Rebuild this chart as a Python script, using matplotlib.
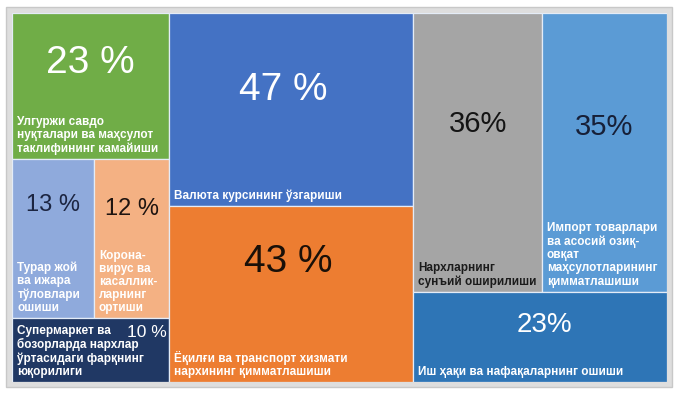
"""
Treemap of inflation factors (percent of respondents)
"""
import matplotlib.pyplot as plt
from matplotlib.patches import Rectangle

plt.rcParams['font.family'] = ['Liberation Sans', 'DejaVu Sans']

# --- data -------------------------------------------------------------
labels = [
    "Улгуржи савдо\nнуқталари ва маҳсулот\nтаклифининг камайиши",
    "Турар жой\nва ижара\nтўловлари\nошиши",
    "Корона-\nвирус ва\nкасаллик-\nларнинг\nортиши",
    "Супермаркет ва\nбозорларда нархлар\nўртасидаги фарқнинг\nюқорилиги",
    "Валюта курсининг ўзгариши",
    "Ёқилғи ва транспорт хизмати\nнархининг қимматлашиши",
    "Нархларнинг\nсунъий оширилиши",
    "Импорт товарлари\nва асосий озиқ-\nовқат\nмаҳсулотларининг\nқимматлашиши",
    "Иш ҳақи ва нафақаларнинг ошиши",
]
values = [23, 13, 12, 10, 47, 43, 36, 35, 23]
pct_text = ["23 %", "13 %", "12 %", "10 %", "47 %", "43 %", "36%", "35%", "23%"]

# columns -> rows -> tile indices (slice and dice structure)
layout = [[[0], [1, 2], [3]], [[4], [5]], [[6, 7], [8]]]

# --- styles -----------------------------------------------------------
colors = ["#70AD47", "#8FAADC", "#F4B183", "#203864", "#4472C4",
          "#ED7D31", "#A5A5A5", "#5B9BD5", "#2E75B6"]
pct_colors = ["white", "#1C2541", "#1E1410", "white", "white",
              "#1A1008", "#141414", "#172038", "white"]
pct_sizes = [28, 17, 17, 12.5, 28, 28, 21, 21, 20]
# relative position of the percentage inside its tile
pct_pos = [(0.5, 0.66), (0.5, 0.71), (0.51, 0.69), (0.985, 0.78),
           (0.47, 0.60), (0.49, 0.68), (0.51, 0.60), (0.5, 0.59),
           (0.52, 0.63)]
label_colors = ["white"] * 6 + ["#1B1B1B"] + ["white"] * 2

# --- layout -----------------------------------------------------------
total = sum(values)
rects = {}
x0 = 0.0
for col in layout:
    col_sum = sum(values[i] for row in col for i in row)
    w = col_sum / total
    y_top = 1.0
    for row in col:
        row_sum = sum(values[i] for i in row)
        h = row_sum / col_sum
        xx = x0
        for i in row:
            tw = w * values[i] / row_sum
            rects[i] = (xx, y_top - h, tw, h)
            xx += tw
        y_top -= h
    x0 += w

fig = plt.figure(figsize=(6.8, 3.93), dpi=100)
fig.patch.set_facecolor("white")
fig.patches.append(Rectangle((6 / 680, 6 / 393), 666 / 680, 380 / 393,
                             transform=fig.transFigure, facecolor="#DEDEDE",
                             edgecolor="#C8C8C8", linewidth=1.0, zorder=-5))

ax = fig.add_axes([12 / 680, 11 / 393, 655 / 680, 369 / 393])
ax.set_zorder(2)
ax.patch.set_alpha(0)
ax.set_xlim(0, 1)
ax.set_ylim(0, 1)
ax.axis("off")

for i in range(len(values)):
    x, y, w, h = rects[i]
    ax.bar(x, h, width=w, bottom=y, align="edge", color=colors[i],
           edgecolor="#E4ECF7", linewidth=0.9)

    fx, fy = pct_pos[i]
    ax.text(x + fx * w, y + fy * h, pct_text[i], color=pct_colors[i],
            fontsize=pct_sizes[i], ha="right" if fx > 0.9 else "center",
            va="center")

    ax.annotate(labels[i], xy=(x, y), xytext=(3.8, 3.0),
                textcoords="offset points", ha="left", va="bottom",
                color=label_colors[i], fontsize=8.5, fontweight="bold",
                linespacing=1.13)

fig.savefig("out.png", dpi=100)
